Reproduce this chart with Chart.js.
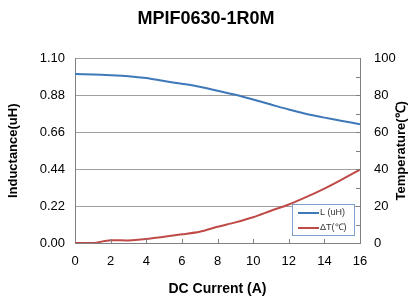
<!DOCTYPE html>
<html>
<head>
<meta charset="utf-8">
<script src="https://cdn.jsdelivr.net/npm/chart.js@4.4.0/dist/chart.umd.min.js"></script>
<style>
  html, body { margin: 0; padding: 0; background: #fff; }
  #wrap { width: 412px; height: 298px; position: relative; }
</style>
</head>
<body>
<div id="wrap"><canvas id="chart"></canvas></div>
<script>
// values
var currentA = [0, 1, 2, 3, 4, 5, 6, 7, 8, 9, 10, 11, 12, 13, 14, 15, 16];
var inductance = [1.008, 1.005, 1.001, 0.995, 0.984, 0.966, 0.95, 0.932, 0.908, 0.884, 0.856, 0.826, 0.796, 0.770, 0.748, 0.728, 0.709];
var deltaT = [0, 0, 1.5, 1.4, 2.2, 3.4, 4.7, 6.1, 8.8, 11.2, 14.0, 17.5, 20.9, 25.0, 29.5, 34.5, 39.8];
var leftTicks = [0, 0.22, 0.44, 0.66, 0.88, 1.10];
var seriesNames = ['L (uH)', '\u0394T(\u2103)'];
var rightTitle = 'Temperature(\u2103)';

var FONT = '"Liberation Sans", Arial, sans-serif';

function toPoints(xs, ys) {
    var pts = [];
    for (var i = 0; i < xs.length; i++) {
        pts.push({ x: xs[i], y: ys[i] });
    }
    return pts;
}

// inward tick marks, right title (reads bottom to top) and legend box inside the plot
var extras = {
    id: 'extras',
    afterDraw: function (chart) {
        var ctx = chart.ctx;
        var a = chart.chartArea;
        var x = chart.scales.x, yR = chart.scales.y2;
        ctx.save();
        ctx.strokeStyle = '#808080';
        ctx.lineWidth = 1;
        ctx.beginPath();
        for (var v = 2; v < 16; v += 2) {
            var px = Math.round(x.getPixelForValue(v)) + 0.5;
            ctx.moveTo(px, a.bottom);
            ctx.lineTo(px, a.bottom - 4);
        }
        for (var t = 10; t < 100; t += 10) {
            var py = Math.round(yR.getPixelForValue(t)) + 0.5;
            ctx.moveTo(a.right, py);
            ctx.lineTo(a.right - 4, py);
        }
        ctx.stroke();

        // right axis title
        ctx.save();
        ctx.translate(a.right + 41, (a.top + a.bottom) / 2);
        ctx.rotate(-Math.PI / 2);
        ctx.fillStyle = '#000';
        ctx.font = 'bold 13px ' + FONT;
        ctx.textAlign = 'center';
        ctx.textBaseline = 'middle';
        ctx.fillText(rightTitle, 0, 0);
        ctx.restore();

        // legend
        var lx = a.right - 68, ly = a.bottom - 39, lw = 62, lh = 31;
        ctx.fillStyle = '#fff';
        ctx.fillRect(lx, ly, lw, lh);
        ctx.strokeStyle = '#7fa0c8';
        ctx.lineWidth = 1;
        ctx.strokeRect(lx + 0.5, ly + 0.5, lw, lh);
        var cols = ['#3f78b9', '#be4b48'];
        ctx.font = '9px ' + FONT;
        ctx.textBaseline = 'middle';
        for (var i = 0; i < 2; i++) {
            var yy = ly + 9 + i * 15;
            ctx.strokeStyle = cols[i];
            ctx.lineWidth = 2;
            ctx.beginPath();
            ctx.moveTo(lx + 6, yy);
            ctx.lineTo(lx + 27, yy);
            ctx.stroke();
            ctx.fillStyle = '#333';
            ctx.fillText(seriesNames[i], lx + 28, yy);
        }
        ctx.restore();
    }
};

var ctx = document.getElementById('chart').getContext('2d');
var chart = new Chart(ctx, {
    type: 'line',
    data: {
        datasets: [{
            label: seriesNames[0],
            data: toPoints(currentA, inductance),
            borderColor: '#3f78b9',
            backgroundColor: '#3f78b9',
            borderWidth: 2,
            pointRadius: 0,
            tension: 0.3,
            fill: false,
            yAxisID: 'y'
        }, {
            label: seriesNames[1],
            data: toPoints(currentA, deltaT),
            borderColor: '#be4b48',
            backgroundColor: '#be4b48',
            borderWidth: 2,
            pointRadius: 0,
            tension: 0.3,
            fill: false,
            yAxisID: 'y2'
        }]
    },
    options: {
        responsive: true,
        maintainAspectRatio: false,
        animation: false,
        layout: { padding: { left: 0, right: 0, top: 0, bottom: 0 } },
        plugins: {
            legend: { display: false },
            tooltip: { enabled: false },
            title: {
                display: true,
                text: 'MPIF0630-1R0M',
                color: '#000',
                font: { family: FONT, size: 18, weight: 'bold' },
                padding: { top: 8, bottom: 29 }
            }
        },
        scales: {
            x: {
                type: 'linear',
                min: 0,
                max: 16,
                afterFit: function (axis) { axis.height = 55; },
                ticks: {
                    stepSize: 2,
                    color: '#000',
                    padding: 11,
                    font: { family: FONT, size: 13 }
                },
                grid: { display: false, drawTicks: false },
                border: { display: true, color: '#808080' },
                title: {
                    display: true,
                    text: 'DC Current (A)',
                    color: '#000',
                    font: { family: FONT, size: 14, weight: 'bold' },
                    padding: { top: 6, bottom: 0 }
                }
            },
            y: {
                position: 'left',
                min: 0,
                max: 1.10,
                afterFit: function (axis) { axis.width = 75; },
                afterBuildTicks: function (axis) {
                    axis.ticks = leftTicks.map(function (v) { return { value: v }; });
                },
                ticks: {
                    color: '#000',
                    padding: 10,
                    font: { family: FONT, size: 13 },
                    callback: function (v) { return Number(v).toFixed(2); }
                },
                grid: { color: '#a0a0a0', drawTicks: false },
                border: { display: true, color: '#808080' },
                title: {
                    display: true,
                    text: 'Inductance(uH)',
                    color: '#000',
                    font: { family: FONT, size: 13, weight: 'bold' },
                    padding: { top: 6, bottom: 6 }
                }
            },
            y2: {
                position: 'right',
                min: 0,
                max: 100,
                afterFit: function (axis) { axis.width = 52; },
                ticks: {
                    stepSize: 20,
                    color: '#000',
                    padding: 14,
                    font: { family: FONT, size: 13 }
                },
                grid: { display: false, drawTicks: false },
                border: { display: true, color: '#808080' }
            }
        }
    },
    plugins: [extras]
});
</script>
</body>
</html>
